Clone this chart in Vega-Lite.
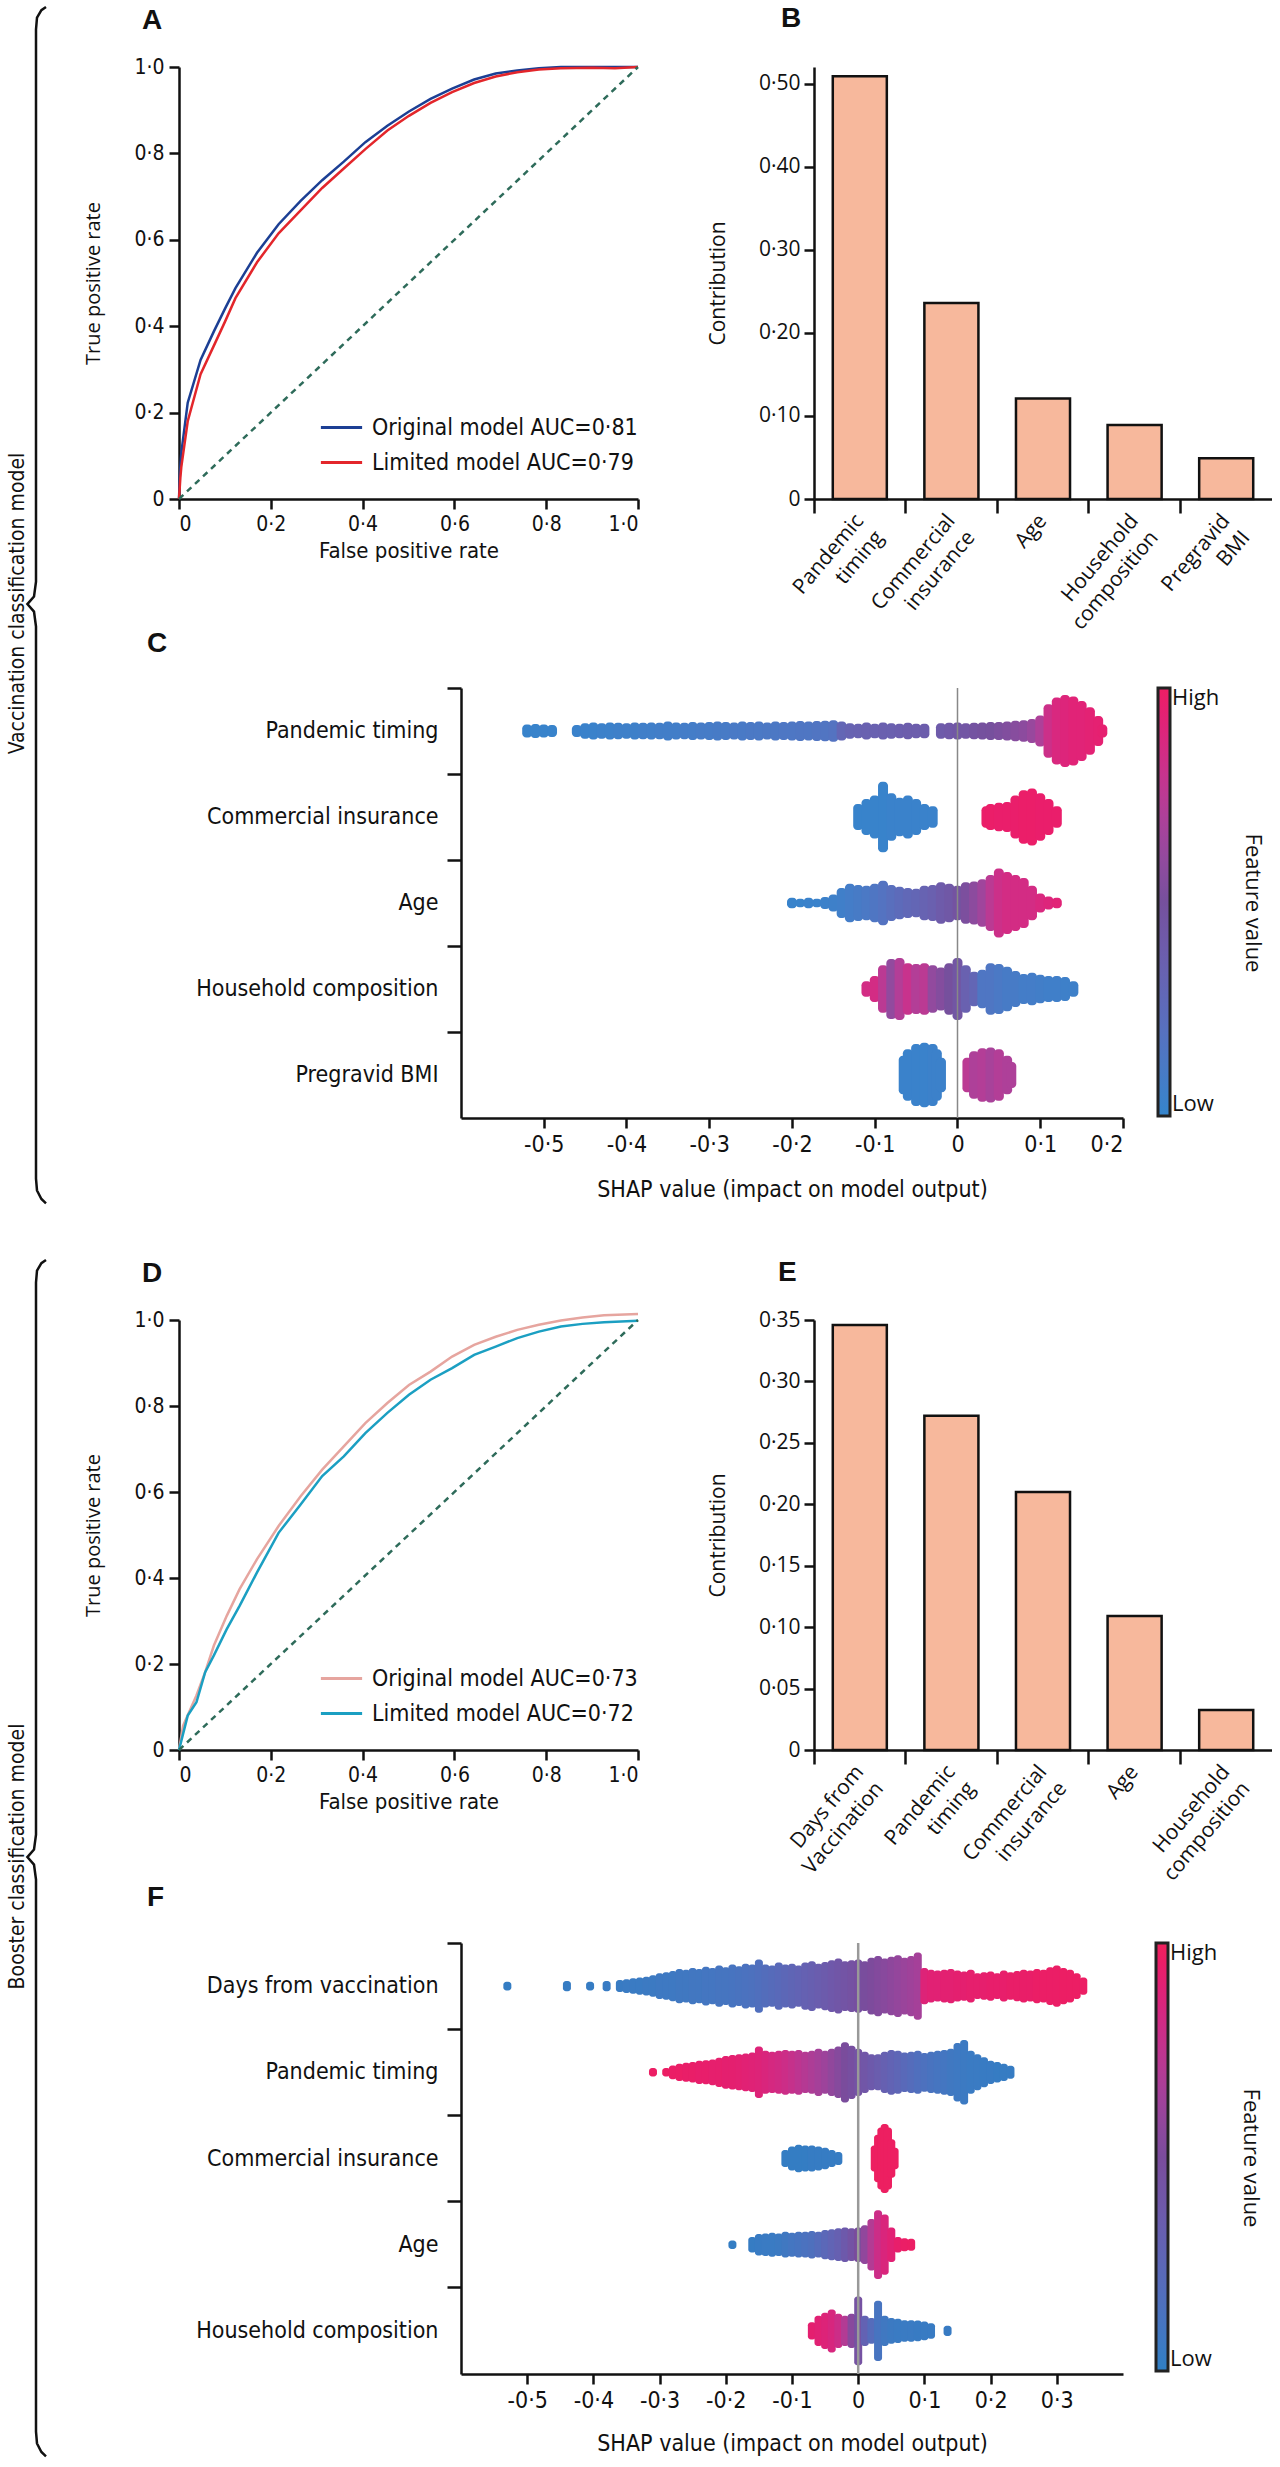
{
"$schema":"https://vega.github.io/schema/vega-lite/v6.json",
"background":"white",
"padding":{"left":6,"top":1,"right":0,"bottom":0},
"config":{
 "view":{"stroke":null},
 "axis":{"grid":false,"domainColor":"#111","domainWidth":2.5,"tickColor":"#111","tickWidth":2.5,"tickSize":10,"labelColor":"#111","titleColor":"#111","titleFontWeight":"normal","labelFont":"DejaVu Sans Condensed, Liberation Sans, sans-serif","titleFont":"DejaVu Sans Condensed, Liberation Sans, sans-serif","labelFontSize":21,"titleFontSize":22,"labelLimit":500},
 "title":{"fontSize":28,"fontWeight":"bold","font":"Liberation Sans","anchor":"start","frame":"group","color":"#111"},
 "legend":{"labelColor":"#111","titleColor":"#111","labelLimit":500}
},
"datasets":{
 "brace":[{"o":1,"bx":0.95,"by":1.056},{"o":2,"bx":0.72,"by":1.053},{"o":3,"bx":0.5,"by":1.046},{"o":4,"bx":0.45,"by":1.035},{"o":5,"bx":0.45,"by":0.52},{"o":6,"bx":0.35,"by":0.506},{"o":7,"bx":0.02,"by":0.499},{"o":8,"bx":0.35,"by":0.492},{"o":9,"bx":0.45,"by":0.478},{"o":10,"bx":0.45,"by":-0.037},{"o":11,"bx":0.5,"by":-0.048},{"o":12,"bx":0.72,"by":-0.056},{"o":13,"bx":0.95,"by":-0.06}],
 "rocA":[
  {"m":"Original model AUC=0·81","fpr":0,"tpr":0},{"m":"Original model AUC=0·81","fpr":0.002,"tpr":0.06},{"m":"Original model AUC=0·81","fpr":0.005,"tpr":0.107},{"m":"Original model AUC=0·81","fpr":0.019,"tpr":0.223},{"m":"Original model AUC=0·81","fpr":0.047,"tpr":0.322},{"m":"Original model AUC=0·81","fpr":0.076,"tpr":0.388},{"m":"Original model AUC=0·81","fpr":0.1,"tpr":0.44},{"m":"Original model AUC=0·81","fpr":0.123,"tpr":0.488},{"m":"Original model AUC=0·81","fpr":0.17,"tpr":0.57},{"m":"Original model AUC=0·81","fpr":0.217,"tpr":0.636},{"m":"Original model AUC=0·81","fpr":0.265,"tpr":0.69},{"m":"Original model AUC=0·81","fpr":0.312,"tpr":0.738},{"m":"Original model AUC=0·81","fpr":0.359,"tpr":0.781},{"m":"Original model AUC=0·81","fpr":0.406,"tpr":0.826},{"m":"Original model AUC=0·81","fpr":0.454,"tpr":0.864},{"m":"Original model AUC=0·81","fpr":0.501,"tpr":0.897},{"m":"Original model AUC=0·81","fpr":0.548,"tpr":0.926},{"m":"Original model AUC=0·81","fpr":0.595,"tpr":0.95},{"m":"Original model AUC=0·81","fpr":0.643,"tpr":0.971},{"m":"Original model AUC=0·81","fpr":0.69,"tpr":0.985},{"m":"Original model AUC=0·81","fpr":0.737,"tpr":0.992},{"m":"Original model AUC=0·81","fpr":0.784,"tpr":0.997},{"m":"Original model AUC=0·81","fpr":0.832,"tpr":1},{"m":"Original model AUC=0·81","fpr":0.9,"tpr":1},{"m":"Original model AUC=0·81","fpr":1,"tpr":1},
  {"m":"Limited model AUC=0·79","fpr":0,"tpr":0},{"m":"Limited model AUC=0·79","fpr":0.003,"tpr":0.05},{"m":"Limited model AUC=0·79","fpr":0.005,"tpr":0.074},{"m":"Limited model AUC=0·79","fpr":0.019,"tpr":0.18},{"m":"Limited model AUC=0·79","fpr":0.047,"tpr":0.289},{"m":"Limited model AUC=0·79","fpr":0.076,"tpr":0.355},{"m":"Limited model AUC=0·79","fpr":0.1,"tpr":0.41},{"m":"Limited model AUC=0·79","fpr":0.123,"tpr":0.465},{"m":"Limited model AUC=0·79","fpr":0.17,"tpr":0.548},{"m":"Limited model AUC=0·79","fpr":0.217,"tpr":0.615},{"m":"Limited model AUC=0·79","fpr":0.265,"tpr":0.668},{"m":"Limited model AUC=0·79","fpr":0.312,"tpr":0.72},{"m":"Limited model AUC=0·79","fpr":0.359,"tpr":0.765},{"m":"Limited model AUC=0·79","fpr":0.406,"tpr":0.81},{"m":"Limited model AUC=0·79","fpr":0.454,"tpr":0.853},{"m":"Limited model AUC=0·79","fpr":0.501,"tpr":0.887},{"m":"Limited model AUC=0·79","fpr":0.548,"tpr":0.917},{"m":"Limited model AUC=0·79","fpr":0.595,"tpr":0.942},{"m":"Limited model AUC=0·79","fpr":0.643,"tpr":0.963},{"m":"Limited model AUC=0·79","fpr":0.69,"tpr":0.978},{"m":"Limited model AUC=0·79","fpr":0.737,"tpr":0.988},{"m":"Limited model AUC=0·79","fpr":0.784,"tpr":0.994},{"m":"Limited model AUC=0·79","fpr":0.832,"tpr":0.997},{"m":"Limited model AUC=0·79","fpr":0.9,"tpr":0.998},{"m":"Limited model AUC=0·79","fpr":0.95,"tpr":0.997},{"m":"Limited model AUC=0·79","fpr":1,"tpr":1}
 ],
 "rocD":[
  {"m":"Original model AUC=0·73","fpr":0,"tpr":0},{"m":"Original model AUC=0·73","fpr":0.009,"tpr":0.057},{"m":"Original model AUC=0·73","fpr":0.038,"tpr":0.127},{"m":"Original model AUC=0·73","fpr":0.057,"tpr":0.181},{"m":"Original model AUC=0·73","fpr":0.076,"tpr":0.243},{"m":"Original model AUC=0·73","fpr":0.104,"tpr":0.312},{"m":"Original model AUC=0·73","fpr":0.132,"tpr":0.374},{"m":"Original model AUC=0·73","fpr":0.17,"tpr":0.444},{"m":"Original model AUC=0·73","fpr":0.217,"tpr":0.521},{"m":"Original model AUC=0·73","fpr":0.265,"tpr":0.59},{"m":"Original model AUC=0·73","fpr":0.312,"tpr":0.652},{"m":"Original model AUC=0·73","fpr":0.359,"tpr":0.706},{"m":"Original model AUC=0·73","fpr":0.406,"tpr":0.76},{"m":"Original model AUC=0·73","fpr":0.454,"tpr":0.807},{"m":"Original model AUC=0·73","fpr":0.501,"tpr":0.849},{"m":"Original model AUC=0·73","fpr":0.548,"tpr":0.88},{"m":"Original model AUC=0·73","fpr":0.595,"tpr":0.915},{"m":"Original model AUC=0·73","fpr":0.643,"tpr":0.942},{"m":"Original model AUC=0·73","fpr":0.69,"tpr":0.961},{"m":"Original model AUC=0·73","fpr":0.737,"tpr":0.977},{"m":"Original model AUC=0·73","fpr":0.784,"tpr":0.989},{"m":"Original model AUC=0·73","fpr":0.832,"tpr":0.999},{"m":"Original model AUC=0·73","fpr":0.879,"tpr":1.006},{"m":"Original model AUC=0·73","fpr":0.926,"tpr":1.011},{"m":"Original model AUC=0·73","fpr":1,"tpr":1.014},
  {"m":"Limited model AUC=0·72","fpr":0,"tpr":0},{"m":"Limited model AUC=0·72","fpr":0.019,"tpr":0.08},{"m":"Limited model AUC=0·72","fpr":0.038,"tpr":0.111},{"m":"Limited model AUC=0·72","fpr":0.057,"tpr":0.181},{"m":"Limited model AUC=0·72","fpr":0.076,"tpr":0.22},{"m":"Limited model AUC=0·72","fpr":0.104,"tpr":0.281},{"m":"Limited model AUC=0·72","fpr":0.132,"tpr":0.335},{"m":"Limited model AUC=0·72","fpr":0.17,"tpr":0.413},{"m":"Limited model AUC=0·72","fpr":0.217,"tpr":0.505},{"m":"Limited model AUC=0·72","fpr":0.265,"tpr":0.571},{"m":"Limited model AUC=0·72","fpr":0.312,"tpr":0.637},{"m":"Limited model AUC=0·72","fpr":0.359,"tpr":0.683},{"m":"Limited model AUC=0·72","fpr":0.406,"tpr":0.737},{"m":"Limited model AUC=0·72","fpr":0.454,"tpr":0.784},{"m":"Limited model AUC=0·72","fpr":0.501,"tpr":0.826},{"m":"Limited model AUC=0·72","fpr":0.548,"tpr":0.861},{"m":"Limited model AUC=0·72","fpr":0.595,"tpr":0.888},{"m":"Limited model AUC=0·72","fpr":0.643,"tpr":0.919},{"m":"Limited model AUC=0·72","fpr":0.69,"tpr":0.938},{"m":"Limited model AUC=0·72","fpr":0.737,"tpr":0.958},{"m":"Limited model AUC=0·72","fpr":0.784,"tpr":0.973},{"m":"Limited model AUC=0·72","fpr":0.832,"tpr":0.985},{"m":"Limited model AUC=0·72","fpr":0.879,"tpr":0.991},{"m":"Limited model AUC=0·72","fpr":0.926,"tpr":0.995},{"m":"Limited model AUC=0·72","fpr":1,"tpr":0.998}
 ],
 "barB":[{"feat":"Pandemic timing","val":0.509},{"feat":"Commercial insurance","val":0.236},{"feat":"Age","val":0.121},{"feat":"Household composition","val":0.089},{"feat":"Pregravid BMI","val":0.049}],
 "barE":[{"feat":"Days from Vaccination","val":0.346},{"feat":"Pandemic timing","val":0.272},{"feat":"Commercial insurance","val":0.21},{"feat":"Age","val":0.109},{"feat":"Household composition","val":0.0326}],
 "swarmC":[
  {"f":"Pandemic timing","s":-0.52,"h":0.15,"v":0.02},{"f":"Pandemic timing","s":-0.51,"h":0.16,"v":0.02},{"f":"Pandemic timing","s":-0.5,"h":0.15,"v":0.02},{"f":"Pandemic timing","s":-0.49,"h":0.14,"v":0.02},
  {"f":"Pandemic timing","s":-0.46,"h":0.14,"v":0.03},{"f":"Pandemic timing","s":-0.45,"h":0.18,"v":0.03},{"f":"Pandemic timing","s":-0.44,"h":0.2,"v":0.03},{"f":"Pandemic timing","s":-0.43,"h":0.18,"v":0.04},{"f":"Pandemic timing","s":-0.42,"h":0.2,"v":0.04},{"f":"Pandemic timing","s":-0.41,"h":0.19,"v":0.05},{"f":"Pandemic timing","s":-0.4,"h":0.18,"v":0.05},{"f":"Pandemic timing","s":-0.39,"h":0.2,"v":0.05},{"f":"Pandemic timing","s":-0.38,"h":0.19,"v":0.06},{"f":"Pandemic timing","s":-0.37,"h":0.2,"v":0.06},{"f":"Pandemic timing","s":-0.36,"h":0.19,"v":0.07},{"f":"Pandemic timing","s":-0.35,"h":0.22,"v":0.07},{"f":"Pandemic timing","s":-0.34,"h":0.2,"v":0.07},{"f":"Pandemic timing","s":-0.33,"h":0.19,"v":0.08},{"f":"Pandemic timing","s":-0.32,"h":0.21,"v":0.08},{"f":"Pandemic timing","s":-0.31,"h":0.2,"v":0.09},{"f":"Pandemic timing","s":-0.3,"h":0.21,"v":0.09},{"f":"Pandemic timing","s":-0.29,"h":0.22,"v":0.1},{"f":"Pandemic timing","s":-0.28,"h":0.21,"v":0.1},{"f":"Pandemic timing","s":-0.27,"h":0.2,"v":0.11},{"f":"Pandemic timing","s":-0.26,"h":0.22,"v":0.11},{"f":"Pandemic timing","s":-0.25,"h":0.21,"v":0.12},{"f":"Pandemic timing","s":-0.24,"h":0.22,"v":0.12},{"f":"Pandemic timing","s":-0.23,"h":0.2,"v":0.13},{"f":"Pandemic timing","s":-0.22,"h":0.22,"v":0.13},{"f":"Pandemic timing","s":-0.21,"h":0.21,"v":0.14},{"f":"Pandemic timing","s":-0.2,"h":0.22,"v":0.14},{"f":"Pandemic timing","s":-0.19,"h":0.23,"v":0.15},{"f":"Pandemic timing","s":-0.18,"h":0.22,"v":0.15},{"f":"Pandemic timing","s":-0.17,"h":0.23,"v":0.16},{"f":"Pandemic timing","s":-0.16,"h":0.24,"v":0.16},{"f":"Pandemic timing","s":-0.15,"h":0.25,"v":0.18},{"f":"Pandemic timing","s":-0.14,"h":0.22,"v":0.3},{"f":"Pandemic timing","s":-0.13,"h":0.18,"v":0.33},{"f":"Pandemic timing","s":-0.12,"h":0.17,"v":0.34},{"f":"Pandemic timing","s":-0.11,"h":0.2,"v":0.35},{"f":"Pandemic timing","s":-0.1,"h":0.17,"v":0.35},{"f":"Pandemic timing","s":-0.09,"h":0.2,"v":0.36},{"f":"Pandemic timing","s":-0.08,"h":0.18,"v":0.36},{"f":"Pandemic timing","s":-0.07,"h":0.17,"v":0.37},{"f":"Pandemic timing","s":-0.06,"h":0.19,"v":0.38},{"f":"Pandemic timing","s":-0.05,"h":0.17,"v":0.38},{"f":"Pandemic timing","s":-0.04,"h":0.17,"v":0.38},{"f":"Pandemic timing","s":-0.02,"h":0.18,"v":0.4},{"f":"Pandemic timing","s":-0.01,"h":0.19,"v":0.42},{"f":"Pandemic timing","s":0,"h":0.2,"v":0.44},{"f":"Pandemic timing","s":0.01,"h":0.18,"v":0.45},{"f":"Pandemic timing","s":0.02,"h":0.19,"v":0.47},{"f":"Pandemic timing","s":0.03,"h":0.2,"v":0.49},{"f":"Pandemic timing","s":0.04,"h":0.21,"v":0.5},{"f":"Pandemic timing","s":0.05,"h":0.21,"v":0.52},{"f":"Pandemic timing","s":0.06,"h":0.22,"v":0.54},{"f":"Pandemic timing","s":0.07,"h":0.24,"v":0.56},{"f":"Pandemic timing","s":0.08,"h":0.25,"v":0.58},{"f":"Pandemic timing","s":0.09,"h":0.28,"v":0.62},{"f":"Pandemic timing","s":0.1,"h":0.36,"v":0.7},{"f":"Pandemic timing","s":0.11,"h":0.62,"v":0.82},{"f":"Pandemic timing","s":0.12,"h":0.78,"v":0.88},{"f":"Pandemic timing","s":0.13,"h":0.84,"v":0.9},{"f":"Pandemic timing","s":0.14,"h":0.8,"v":0.92},{"f":"Pandemic timing","s":0.15,"h":0.7,"v":0.92},{"f":"Pandemic timing","s":0.16,"h":0.55,"v":0.93},{"f":"Pandemic timing","s":0.17,"h":0.35,"v":0.94},{"f":"Pandemic timing","s":0.175,"h":0.15,"v":0.95},
  {"f":"Commercial insurance","s":-0.12,"h":0.3,"v":0.02},{"f":"Commercial insurance","s":-0.11,"h":0.42,"v":0.02},{"f":"Commercial insurance","s":-0.1,"h":0.5,"v":0.02},{"f":"Commercial insurance","s":-0.09,"h":0.82,"v":0.02},{"f":"Commercial insurance","s":-0.08,"h":0.55,"v":0.03},{"f":"Commercial insurance","s":-0.07,"h":0.45,"v":0.03},{"f":"Commercial insurance","s":-0.06,"h":0.5,"v":0.03},{"f":"Commercial insurance","s":-0.05,"h":0.42,"v":0.03},{"f":"Commercial insurance","s":-0.04,"h":0.3,"v":0.03},{"f":"Commercial insurance","s":-0.03,"h":0.25,"v":0.03},
  {"f":"Commercial insurance","s":0.035,"h":0.25,"v":0.98},{"f":"Commercial insurance","s":0.04,"h":0.3,"v":0.98},{"f":"Commercial insurance","s":0.05,"h":0.33,"v":0.97},{"f":"Commercial insurance","s":0.06,"h":0.35,"v":0.97},{"f":"Commercial insurance","s":0.07,"h":0.5,"v":0.97},{"f":"Commercial insurance","s":0.08,"h":0.62,"v":0.98},{"f":"Commercial insurance","s":0.09,"h":0.66,"v":0.98},{"f":"Commercial insurance","s":0.1,"h":0.55,"v":0.97},{"f":"Commercial insurance","s":0.11,"h":0.42,"v":0.97},{"f":"Commercial insurance","s":0.12,"h":0.25,"v":0.97},
  {"f":"Age","s":-0.2,"h":0.12,"v":0.02},{"f":"Age","s":-0.19,"h":0.1,"v":0.02},{"f":"Age","s":-0.18,"h":0.12,"v":0.03},{"f":"Age","s":-0.17,"h":0.1,"v":0.03},{"f":"Age","s":-0.16,"h":0.14,"v":0.04},{"f":"Age","s":-0.15,"h":0.2,"v":0.05},{"f":"Age","s":-0.14,"h":0.35,"v":0.06},{"f":"Age","s":-0.13,"h":0.45,"v":0.08},{"f":"Age","s":-0.12,"h":0.42,"v":0.1},{"f":"Age","s":-0.11,"h":0.4,"v":0.12},{"f":"Age","s":-0.1,"h":0.45,"v":0.15},{"f":"Age","s":-0.09,"h":0.52,"v":0.18},{"f":"Age","s":-0.08,"h":0.42,"v":0.22},{"f":"Age","s":-0.07,"h":0.38,"v":0.25},{"f":"Age","s":-0.06,"h":0.35,"v":0.28},{"f":"Age","s":-0.05,"h":0.33,"v":0.3},{"f":"Age","s":-0.04,"h":0.4,"v":0.33},{"f":"Age","s":-0.03,"h":0.42,"v":0.36},{"f":"Age","s":-0.02,"h":0.48,"v":0.4},{"f":"Age","s":-0.01,"h":0.45,"v":0.43},{"f":"Age","s":0,"h":0.4,"v":0.47},{"f":"Age","s":0.01,"h":0.48,"v":0.52},{"f":"Age","s":0.02,"h":0.5,"v":0.58},{"f":"Age","s":0.03,"h":0.55,"v":0.65},{"f":"Age","s":0.04,"h":0.65,"v":0.75},{"f":"Age","s":0.05,"h":0.8,"v":0.82},{"f":"Age","s":0.06,"h":0.72,"v":0.85},{"f":"Age","s":0.07,"h":0.65,"v":0.85},{"f":"Age","s":0.08,"h":0.58,"v":0.85},{"f":"Age","s":0.09,"h":0.4,"v":0.85},{"f":"Age","s":0.1,"h":0.22,"v":0.88},{"f":"Age","s":0.11,"h":0.15,"v":0.9},{"f":"Age","s":0.12,"h":0.12,"v":0.92},
  {"f":"Household composition","s":-0.11,"h":0.18,"v":0.85},{"f":"Household composition","s":-0.1,"h":0.3,"v":0.85},{"f":"Household composition","s":-0.09,"h":0.55,"v":0.75},{"f":"Household composition","s":-0.08,"h":0.7,"v":0.6},{"f":"Household composition","s":-0.07,"h":0.72,"v":0.72},{"f":"Household composition","s":-0.06,"h":0.6,"v":0.8},{"f":"Household composition","s":-0.05,"h":0.58,"v":0.72},{"f":"Household composition","s":-0.04,"h":0.6,"v":0.75},{"f":"Household composition","s":-0.03,"h":0.55,"v":0.6},{"f":"Household composition","s":-0.02,"h":0.5,"v":0.55},{"f":"Household composition","s":-0.01,"h":0.6,"v":0.5},{"f":"Household composition","s":0,"h":0.72,"v":0.45},{"f":"Household composition","s":0.01,"h":0.55,"v":0.35},{"f":"Household composition","s":0.02,"h":0.4,"v":0.3},{"f":"Household composition","s":0.03,"h":0.45,"v":0.15},{"f":"Household composition","s":0.04,"h":0.6,"v":0.15},{"f":"Household composition","s":0.05,"h":0.58,"v":0.12},{"f":"Household composition","s":0.06,"h":0.52,"v":0.1},{"f":"Household composition","s":0.07,"h":0.42,"v":0.1},{"f":"Household composition","s":0.08,"h":0.35,"v":0.08},{"f":"Household composition","s":0.09,"h":0.38,"v":0.08},{"f":"Household composition","s":0.1,"h":0.33,"v":0.07},{"f":"Household composition","s":0.11,"h":0.3,"v":0.06},{"f":"Household composition","s":0.12,"h":0.3,"v":0.06},{"f":"Household composition","s":0.13,"h":0.28,"v":0.05},{"f":"Household composition","s":0.14,"h":0.18,"v":0.05},
  {"f":"Pregravid BMI","s":-0.065,"h":0.45,"v":0.03},{"f":"Pregravid BMI","s":-0.06,"h":0.6,"v":0.03},{"f":"Pregravid BMI","s":-0.05,"h":0.72,"v":0.03},{"f":"Pregravid BMI","s":-0.04,"h":0.75,"v":0.03},{"f":"Pregravid BMI","s":-0.03,"h":0.72,"v":0.04},{"f":"Pregravid BMI","s":-0.025,"h":0.6,"v":0.04},{"f":"Pregravid BMI","s":-0.02,"h":0.4,"v":0.04},
  {"f":"Pregravid BMI","s":0.012,"h":0.4,"v":0.75},{"f":"Pregravid BMI","s":0.02,"h":0.55,"v":0.7},{"f":"Pregravid BMI","s":0.03,"h":0.62,"v":0.72},{"f":"Pregravid BMI","s":0.04,"h":0.64,"v":0.68},{"f":"Pregravid BMI","s":0.05,"h":0.6,"v":0.72},{"f":"Pregravid BMI","s":0.06,"h":0.45,"v":0.7},{"f":"Pregravid BMI","s":0.065,"h":0.3,"v":0.7}
 ],
 "swarmF":[
  {"f":"Days from vaccination","s":-0.53,"h":0.1,"v":0.02},{"f":"Days from vaccination","s":-0.44,"h":0.12,"v":0.03},{"f":"Days from vaccination","s":-0.405,"h":0.1,"v":0.03},{"f":"Days from vaccination","s":-0.38,"h":0.12,"v":0.04},{"f":"Days from vaccination","s":-0.36,"h":0.14,"v":0.04},{"f":"Days from vaccination","s":-0.35,"h":0.16,"v":0.05},{"f":"Days from vaccination","s":-0.34,"h":0.18,"v":0.05},{"f":"Days from vaccination","s":-0.33,"h":0.2,"v":0.05},{"f":"Days from vaccination","s":-0.32,"h":0.22,"v":0.06},{"f":"Days from vaccination","s":-0.31,"h":0.25,"v":0.06},{"f":"Days from vaccination","s":-0.3,"h":0.3,"v":0.07},{"f":"Days from vaccination","s":-0.29,"h":0.32,"v":0.07},{"f":"Days from vaccination","s":-0.28,"h":0.35,"v":0.07},{"f":"Days from vaccination","s":-0.27,"h":0.4,"v":0.08},{"f":"Days from vaccination","s":-0.26,"h":0.38,"v":0.08},{"f":"Days from vaccination","s":-0.25,"h":0.42,"v":0.09},{"f":"Days from vaccination","s":-0.24,"h":0.4,"v":0.09},{"f":"Days from vaccination","s":-0.23,"h":0.45,"v":0.1},{"f":"Days from vaccination","s":-0.22,"h":0.42,"v":0.1},{"f":"Days from vaccination","s":-0.21,"h":0.48,"v":0.11},{"f":"Days from vaccination","s":-0.2,"h":0.44,"v":0.11},{"f":"Days from vaccination","s":-0.19,"h":0.5,"v":0.12},{"f":"Days from vaccination","s":-0.18,"h":0.46,"v":0.13},{"f":"Days from vaccination","s":-0.17,"h":0.52,"v":0.14},{"f":"Days from vaccination","s":-0.16,"h":0.5,"v":0.15},{"f":"Days from vaccination","s":-0.15,"h":0.62,"v":0.17},{"f":"Days from vaccination","s":-0.14,"h":0.5,"v":0.19},{"f":"Days from vaccination","s":-0.13,"h":0.48,"v":0.21},{"f":"Days from vaccination","s":-0.12,"h":0.55,"v":0.23},{"f":"Days from vaccination","s":-0.11,"h":0.5,"v":0.25},{"f":"Days from vaccination","s":-0.1,"h":0.52,"v":0.27},{"f":"Days from vaccination","s":-0.09,"h":0.48,"v":0.29},{"f":"Days from vaccination","s":-0.08,"h":0.55,"v":0.31},{"f":"Days from vaccination","s":-0.07,"h":0.58,"v":0.33},{"f":"Days from vaccination","s":-0.06,"h":0.52,"v":0.35},{"f":"Days from vaccination","s":-0.05,"h":0.56,"v":0.37},{"f":"Days from vaccination","s":-0.04,"h":0.6,"v":0.39},{"f":"Days from vaccination","s":-0.03,"h":0.64,"v":0.41},{"f":"Days from vaccination","s":-0.02,"h":0.58,"v":0.43},{"f":"Days from vaccination","s":-0.01,"h":0.6,"v":0.45},{"f":"Days from vaccination","s":0,"h":0.62,"v":0.47},{"f":"Days from vaccination","s":0.01,"h":0.58,"v":0.49},{"f":"Days from vaccination","s":0.02,"h":0.66,"v":0.51},{"f":"Days from vaccination","s":0.03,"h":0.7,"v":0.53},{"f":"Days from vaccination","s":0.04,"h":0.64,"v":0.55},{"f":"Days from vaccination","s":0.05,"h":0.68,"v":0.57},{"f":"Days from vaccination","s":0.06,"h":0.72,"v":0.59},{"f":"Days from vaccination","s":0.07,"h":0.66,"v":0.61},{"f":"Days from vaccination","s":0.08,"h":0.7,"v":0.63},{"f":"Days from vaccination","s":0.09,"h":0.78,"v":0.65},{"f":"Days from vaccination","s":0.1,"h":0.42,"v":0.88},{"f":"Days from vaccination","s":0.11,"h":0.38,"v":0.9},{"f":"Days from vaccination","s":0.12,"h":0.36,"v":0.9},{"f":"Days from vaccination","s":0.13,"h":0.38,"v":0.91},{"f":"Days from vaccination","s":0.14,"h":0.4,"v":0.91},{"f":"Days from vaccination","s":0.15,"h":0.36,"v":0.92},{"f":"Days from vaccination","s":0.16,"h":0.34,"v":0.92},{"f":"Days from vaccination","s":0.17,"h":0.38,"v":0.93},{"f":"Days from vaccination","s":0.18,"h":0.3,"v":0.93},{"f":"Days from vaccination","s":0.19,"h":0.32,"v":0.93},{"f":"Days from vaccination","s":0.2,"h":0.34,"v":0.94},{"f":"Days from vaccination","s":0.21,"h":0.3,"v":0.94},{"f":"Days from vaccination","s":0.22,"h":0.36,"v":0.94},{"f":"Days from vaccination","s":0.23,"h":0.32,"v":0.95},{"f":"Days from vaccination","s":0.24,"h":0.35,"v":0.95},{"f":"Days from vaccination","s":0.25,"h":0.38,"v":0.95},{"f":"Days from vaccination","s":0.26,"h":0.36,"v":0.95},{"f":"Days from vaccination","s":0.27,"h":0.4,"v":0.96},{"f":"Days from vaccination","s":0.28,"h":0.38,"v":0.96},{"f":"Days from vaccination","s":0.29,"h":0.44,"v":0.96},{"f":"Days from vaccination","s":0.3,"h":0.48,"v":0.96},{"f":"Days from vaccination","s":0.31,"h":0.42,"v":0.97},{"f":"Days from vaccination","s":0.32,"h":0.38,"v":0.97},{"f":"Days from vaccination","s":0.33,"h":0.3,"v":0.97},{"f":"Days from vaccination","s":0.34,"h":0.2,"v":0.97},
  {"f":"Pandemic timing","s":-0.31,"h":0.1,"v":0.97},{"f":"Pandemic timing","s":-0.29,"h":0.1,"v":0.97},{"f":"Pandemic timing","s":-0.28,"h":0.16,"v":0.96},{"f":"Pandemic timing","s":-0.27,"h":0.2,"v":0.96},{"f":"Pandemic timing","s":-0.26,"h":0.22,"v":0.95},{"f":"Pandemic timing","s":-0.25,"h":0.24,"v":0.95},{"f":"Pandemic timing","s":-0.24,"h":0.27,"v":0.94},{"f":"Pandemic timing","s":-0.23,"h":0.28,"v":0.94},{"f":"Pandemic timing","s":-0.22,"h":0.3,"v":0.93},{"f":"Pandemic timing","s":-0.21,"h":0.34,"v":0.93},{"f":"Pandemic timing","s":-0.2,"h":0.38,"v":0.92},{"f":"Pandemic timing","s":-0.19,"h":0.4,"v":0.92},{"f":"Pandemic timing","s":-0.18,"h":0.42,"v":0.91},{"f":"Pandemic timing","s":-0.17,"h":0.44,"v":0.9},{"f":"Pandemic timing","s":-0.16,"h":0.46,"v":0.89},{"f":"Pandemic timing","s":-0.15,"h":0.6,"v":0.88},{"f":"Pandemic timing","s":-0.14,"h":0.5,"v":0.86},{"f":"Pandemic timing","s":-0.13,"h":0.48,"v":0.84},{"f":"Pandemic timing","s":-0.12,"h":0.5,"v":0.82},{"f":"Pandemic timing","s":-0.11,"h":0.52,"v":0.8},{"f":"Pandemic timing","s":-0.1,"h":0.5,"v":0.77},{"f":"Pandemic timing","s":-0.09,"h":0.52,"v":0.74},{"f":"Pandemic timing","s":-0.08,"h":0.48,"v":0.71},{"f":"Pandemic timing","s":-0.07,"h":0.5,"v":0.68},{"f":"Pandemic timing","s":-0.06,"h":0.55,"v":0.65},{"f":"Pandemic timing","s":-0.05,"h":0.5,"v":0.62},{"f":"Pandemic timing","s":-0.04,"h":0.55,"v":0.58},{"f":"Pandemic timing","s":-0.03,"h":0.6,"v":0.54},{"f":"Pandemic timing","s":-0.02,"h":0.7,"v":0.5},{"f":"Pandemic timing","s":-0.01,"h":0.62,"v":0.47},{"f":"Pandemic timing","s":0,"h":0.55,"v":0.44},{"f":"Pandemic timing","s":0.01,"h":0.48,"v":0.41},{"f":"Pandemic timing","s":0.02,"h":0.42,"v":0.38},{"f":"Pandemic timing","s":0.03,"h":0.42,"v":0.35},{"f":"Pandemic timing","s":0.04,"h":0.48,"v":0.32},{"f":"Pandemic timing","s":0.05,"h":0.52,"v":0.29},{"f":"Pandemic timing","s":0.06,"h":0.5,"v":0.26},{"f":"Pandemic timing","s":0.07,"h":0.46,"v":0.23},{"f":"Pandemic timing","s":0.08,"h":0.48,"v":0.2},{"f":"Pandemic timing","s":0.09,"h":0.5,"v":0.17},{"f":"Pandemic timing","s":0.1,"h":0.45,"v":0.15},{"f":"Pandemic timing","s":0.11,"h":0.48,"v":0.13},{"f":"Pandemic timing","s":0.12,"h":0.5,"v":0.11},{"f":"Pandemic timing","s":0.13,"h":0.52,"v":0.1},{"f":"Pandemic timing","s":0.14,"h":0.55,"v":0.08},{"f":"Pandemic timing","s":0.15,"h":0.68,"v":0.07},{"f":"Pandemic timing","s":0.16,"h":0.75,"v":0.06},{"f":"Pandemic timing","s":0.17,"h":0.5,"v":0.05},{"f":"Pandemic timing","s":0.18,"h":0.42,"v":0.05},{"f":"Pandemic timing","s":0.19,"h":0.35,"v":0.04},{"f":"Pandemic timing","s":0.2,"h":0.27,"v":0.04},{"f":"Pandemic timing","s":0.21,"h":0.24,"v":0.03},{"f":"Pandemic timing","s":0.22,"h":0.2,"v":0.03},{"f":"Pandemic timing","s":0.23,"h":0.15,"v":0.03},
  {"f":"Commercial insurance","s":-0.11,"h":0.2,"v":0.02},{"f":"Commercial insurance","s":-0.1,"h":0.28,"v":0.02},{"f":"Commercial insurance","s":-0.09,"h":0.32,"v":0.02},{"f":"Commercial insurance","s":-0.08,"h":0.3,"v":0.02},{"f":"Commercial insurance","s":-0.07,"h":0.3,"v":0.03},{"f":"Commercial insurance","s":-0.06,"h":0.28,"v":0.03},{"f":"Commercial insurance","s":-0.05,"h":0.25,"v":0.03},{"f":"Commercial insurance","s":-0.04,"h":0.2,"v":0.03},{"f":"Commercial insurance","s":-0.03,"h":0.15,"v":0.03},
  {"f":"Commercial insurance","s":0.025,"h":0.3,"v":0.98},{"f":"Commercial insurance","s":0.03,"h":0.55,"v":0.98},{"f":"Commercial insurance","s":0.035,"h":0.72,"v":0.98},{"f":"Commercial insurance","s":0.04,"h":0.8,"v":0.98},{"f":"Commercial insurance","s":0.045,"h":0.72,"v":0.98},{"f":"Commercial insurance","s":0.05,"h":0.45,"v":0.98},{"f":"Commercial insurance","s":0.055,"h":0.25,"v":0.98},
  {"f":"Age","s":-0.19,"h":0.1,"v":0.02},{"f":"Age","s":-0.16,"h":0.18,"v":0.03},{"f":"Age","s":-0.15,"h":0.25,"v":0.04},{"f":"Age","s":-0.14,"h":0.26,"v":0.05},{"f":"Age","s":-0.13,"h":0.28,"v":0.05},{"f":"Age","s":-0.12,"h":0.26,"v":0.06},{"f":"Age","s":-0.11,"h":0.3,"v":0.08},{"f":"Age","s":-0.1,"h":0.28,"v":0.1},{"f":"Age","s":-0.09,"h":0.3,"v":0.12},{"f":"Age","s":-0.08,"h":0.3,"v":0.14},{"f":"Age","s":-0.07,"h":0.32,"v":0.16},{"f":"Age","s":-0.06,"h":0.3,"v":0.2},{"f":"Age","s":-0.05,"h":0.34,"v":0.24},{"f":"Age","s":-0.04,"h":0.36,"v":0.28},{"f":"Age","s":-0.03,"h":0.38,"v":0.32},{"f":"Age","s":-0.02,"h":0.4,"v":0.38},{"f":"Age","s":-0.01,"h":0.38,"v":0.44},{"f":"Age","s":0,"h":0.4,"v":0.5},{"f":"Age","s":0.01,"h":0.45,"v":0.58},{"f":"Age","s":0.02,"h":0.6,"v":0.7},{"f":"Age","s":0.03,"h":0.8,"v":0.8},{"f":"Age","s":0.04,"h":0.7,"v":0.86},{"f":"Age","s":0.05,"h":0.4,"v":0.9},{"f":"Age","s":0.06,"h":0.18,"v":0.94},{"f":"Age","s":0.07,"h":0.15,"v":0.96},{"f":"Age","s":0.08,"h":0.14,"v":0.97},
  {"f":"Household composition","s":-0.07,"h":0.2,"v":0.92},{"f":"Household composition","s":-0.06,"h":0.35,"v":0.9},{"f":"Household composition","s":-0.05,"h":0.42,"v":0.88},{"f":"Household composition","s":-0.04,"h":0.5,"v":0.85},{"f":"Household composition","s":-0.03,"h":0.4,"v":0.8},{"f":"Household composition","s":-0.02,"h":0.35,"v":0.7},{"f":"Household composition","s":-0.01,"h":0.4,"v":0.55},{"f":"Household composition","s":0,"h":0.8,"v":0.45},{"f":"Household composition","s":0.01,"h":0.35,"v":0.3},{"f":"Household composition","s":0.02,"h":0.3,"v":0.2},{"f":"Household composition","s":0.03,"h":0.7,"v":0.12},{"f":"Household composition","s":0.04,"h":0.35,"v":0.08},{"f":"Household composition","s":0.05,"h":0.3,"v":0.06},{"f":"Household composition","s":0.06,"h":0.28,"v":0.05},{"f":"Household composition","s":0.07,"h":0.25,"v":0.05},{"f":"Household composition","s":0.08,"h":0.25,"v":0.05},{"f":"Household composition","s":0.09,"h":0.24,"v":0.04},{"f":"Household composition","s":0.1,"h":0.22,"v":0.04},{"f":"Household composition","s":0.11,"h":0.18,"v":0.04},{"f":"Household composition","s":0.135,"h":0.12,"v":0.04}
 ]
},
"vconcat":[
 {"hconcat":[
   {"width":20,"height":1072,"data":{"name":"brace"},
    "mark":{"type":"line","color":"#111","strokeWidth":2.5},
    "encoding":{
     "x":{"field":"bx","type":"quantitative","scale":{"domain":[0,1]},"axis":null},
     "y":{"field":"by","type":"quantitative","scale":{"domain":[0,1]},"axis":{"title":"Vaccination classification model","labels":false,"ticks":false,"domain":false,"titlePadding":0,"titleFontSize":21}},
     "order":{"field":"o","type":"quantitative"}}},
   {"vconcat":[
     {"hconcat":[
       {"width":459,"height":432,
        "title":{"text":"A","dx":-37,"offset":21},
        "layer":[
         {"data":{"name":"rocA"},"mark":{"type":"line","strokeWidth":2.5},
          "encoding":{
           "x":{"field":"fpr","type":"quantitative","scale":{"domain":[0,1]},"axis":{"title":"False positive rate","values":[0,0.2,0.4,0.6,0.8,1],"labelExpr":"datum.value==0?'0':replace(format(datum.value,'.1f'),'.','·')","labelPadding":4,"titlePadding":6}},
           "y":{"field":"tpr","type":"quantitative","scale":{"domain":[0,1]},"axis":{"title":"True positive rate","values":[0,0.2,0.4,0.6,0.8,1],"labelExpr":"datum.value==0?'0':replace(format(datum.value,'.1f'),'.','·')","labelPadding":5,"titleFont":"Open Sans","titleFontSize":20,"titlePadding":30}},
           "color":{"field":"m","type":"nominal","scale":{"domain":["Original model AUC=0·81","Limited model AUC=0·79"],"range":["#1c3f94","#e3262b"]},
             "legend":{"title":null,"orient":"none","legendX":140,"legendY":338,"symbolType":"stroke","symbolStrokeWidth":3,"symbolSize":1700,"labelFont":"DejaVu Sans Condensed, Liberation Sans, sans-serif","labelFontSize":23,"labelOffset":8,"rowPadding":-6}}}},
         {"data":{"values":[{}]},"mark":{"type":"rule","color":"#2e6b5a","strokeDash":[6,5],"strokeWidth":2.5},
          "encoding":{"x":{"datum":0,"type":"quantitative"},"y":{"datum":0,"type":"quantitative"},"x2":{"datum":1},"y2":{"datum":1}}}
        ]},
       {"width":458,"height":432,
        "title":{"text":"B","dx":-33,"offset":34},
        "data":{"name":"barB"},
        "mark":{"type":"bar","fill":"#f7b89c","stroke":"#111","strokeWidth":2.5,"width":{"band":0.59}},
        "encoding":{
         "x":{"field":"feat","type":"nominal","sort":null,"scale":{"paddingInner":0,"paddingOuter":0},
           "axis":{"title":null,"labelAngle":-50,"labelAlign":"right","labelBaseline":"middle","labelExpr":"split(datum.label,' ')","bandPosition":0,"tickSize":14,"labelFont":"Open Sans","labelFontSize":21,"labelLineHeight":26,"labelPadding":4}},
         "y":{"field":"val","type":"quantitative","scale":{"domain":[0,0.52]},
           "axis":{"title":"Contribution","values":[0,0.1,0.2,0.3,0.4,0.5],"labelExpr":"datum.value==0?'0':replace(format(datum.value,'.2f'),'.','·')","labelFont":"Open Sans","labelFontSize":21,"titleFont":"Open Sans","titleFontSize":21,"titlePadding":30,"labelPadding":4}}}}
      ],"spacing":64,"align":"none"},
     {"hconcat":[
       {"width":1,"height":1,"data":{"values":[]},"mark":"point","title":{"text":"C","dx":-32,"offset":30}},
       {"width":662,"height":430,
        "layer":[
         {"data":{"name":"swarmC"},"mark":{"type":"tick","thickness":10,"cornerRadius":4,"opacity":1},
          "encoding":{
           "x":{"field":"s","type":"quantitative","scale":{"domain":[-0.533,0.2]},"axis":{"title":"SHAP value (impact on model output)","values":[-0.5,-0.4,-0.3,-0.2,-0.1,0,0.1,0.2],"labelExpr":"datum.value==0?'0':replace(replace(format(datum.value,'.1f'),'.','·'),'−','-')","labelFontSize":23,"titleFontSize":23,"labelPadding":5,"titlePadding":22}},
           "y":{"field":"f","type":"nominal","sort":["Pandemic timing","Commercial insurance","Age","Household composition","Pregravid BMI"],"scale":{"paddingInner":0,"paddingOuter":0},"axis":{"title":null,"bandPosition":0,"labelFontSize":23,"labelPadding":9,"minExtent":275,"maxExtent":275,"tickSize":14}},
           "size":{"field":"h","type":"quantitative","scale":{"domain":[0,1],"range":[0,86]},"legend":null},
           "color":{"field":"v","type":"quantitative","scale":{"domain":[0,0.5,1],"range":["#3485cc","#76509d","#ee1e64"]},
             "legend":{"title":"Feature value","orient":"right","offset":33,"direction":"vertical","gradientLength":428,"gradientThickness":12,"gradientStrokeColor":"#222","gradientStrokeWidth":3,"values":[0,1],"labelExpr":"datum.value>0.5?'High':'Low'","labelFont":"Open Sans","labelFontSize":22,"labelOverlap":false,"titleOrient":"right","titleAngle":90,"titleFont":"Open Sans","titleFontSize":22,"titleFontWeight":"normal","titleAnchor":"middle","titlePadding":22}}}},
         {"data":{"values":[{}]},"mark":{"type":"rule","color":"#888","strokeWidth":1.5},"encoding":{"x":{"datum":0,"type":"quantitative"}}}
        ]}
      ],"spacing":6,"align":"none"}
    ],"spacing":-4,"align":"none"}
  ],"spacing":32,"align":"none"},
 {"hconcat":[
   {"width":20,"height":1072,"data":{"name":"brace"},
    "mark":{"type":"line","color":"#111","strokeWidth":2.5},
    "encoding":{
     "x":{"field":"bx","type":"quantitative","scale":{"domain":[0,1]},"axis":null},
     "y":{"field":"by","type":"quantitative","scale":{"domain":[0,1]},"axis":{"title":"Booster classification model","labels":false,"ticks":false,"domain":false,"titlePadding":0,"titleFontSize":21}},
     "order":{"field":"o","type":"quantitative"}}},
   {"vconcat":[
     {"hconcat":[
       {"width":459,"height":430,
        "title":{"text":"D","dx":-37,"offset":21},
        "layer":[
         {"data":{"name":"rocD"},"mark":{"type":"line","strokeWidth":2.5},
          "encoding":{
           "x":{"field":"fpr","type":"quantitative","scale":{"domain":[0,1]},"axis":{"title":"False positive rate","values":[0,0.2,0.4,0.6,0.8,1],"labelExpr":"datum.value==0?'0':replace(format(datum.value,'.1f'),'.','·')","labelPadding":4,"titlePadding":6}},
           "y":{"field":"tpr","type":"quantitative","scale":{"domain":[0,1]},"axis":{"title":"True positive rate","values":[0,0.2,0.4,0.6,0.8,1],"labelExpr":"datum.value==0?'0':replace(format(datum.value,'.1f'),'.','·')","labelPadding":5,"titleFont":"Open Sans","titleFontSize":20,"titlePadding":30}},
           "color":{"field":"m","type":"nominal","scale":{"domain":["Original model AUC=0·73","Limited model AUC=0·72"],"range":["#e6a59f","#1b9fc2"]},
             "legend":{"title":null,"orient":"none","legendX":140,"legendY":336,"symbolType":"stroke","symbolStrokeWidth":3,"symbolSize":1700,"labelFont":"DejaVu Sans Condensed, Liberation Sans, sans-serif","labelFontSize":23,"labelOffset":8,"rowPadding":-6}}}},
         {"data":{"values":[{}]},"mark":{"type":"rule","color":"#2e6b5a","strokeDash":[6,5],"strokeWidth":2.5},
          "encoding":{"x":{"datum":0,"type":"quantitative"},"y":{"datum":0,"type":"quantitative"},"x2":{"datum":1},"y2":{"datum":1}}}
        ]},
       {"width":458,"height":430,
        "title":{"text":"E","dx":-36,"offset":22},
        "data":{"name":"barE"},
        "mark":{"type":"bar","fill":"#f7b89c","stroke":"#111","strokeWidth":2.5,"width":{"band":0.59}},
        "encoding":{
         "x":{"field":"feat","type":"nominal","sort":null,"scale":{"paddingInner":0,"paddingOuter":0},
           "axis":{"title":null,"labelAngle":-50,"labelAlign":"right","labelBaseline":"middle","labelExpr":"datum.label=='Days from Vaccination'?['Days from','Vaccination']:split(datum.label,' ')","bandPosition":0,"tickSize":14,"labelFont":"Open Sans","labelFontSize":21,"labelLineHeight":26,"labelPadding":4}},
         "y":{"field":"val","type":"quantitative","scale":{"domain":[0,0.35]},
           "axis":{"title":"Contribution","values":[0,0.05,0.1,0.15,0.2,0.25,0.3,0.35],"labelExpr":"datum.value==0?'0':replace(format(datum.value,'.2f'),'.','·')","labelFont":"Open Sans","labelFontSize":21,"titleFont":"Open Sans","titleFontSize":21,"titlePadding":30,"labelPadding":4}}}}
      ],"spacing":64,"align":"none"},
     {"hconcat":[
       {"width":1,"height":1,"data":{"values":[]},"mark":"point","title":{"text":"F","dx":-32,"offset":31}},
       {"width":662,"height":431,
        "layer":[
         {"data":{"name":"swarmF"},"mark":{"type":"tick","thickness":8,"cornerRadius":3,"opacity":1},
          "encoding":{
           "x":{"field":"s","type":"quantitative","scale":{"domain":[-0.582,0.346]},"axis":{"title":"SHAP value (impact on model output)","values":[-0.5,-0.4,-0.3,-0.2,-0.1,0,0.1,0.2,0.3],"labelExpr":"datum.value==0?'0':replace(replace(format(datum.value,'.1f'),'.','·'),'−','-')","labelFontSize":23,"titleFontSize":23,"labelPadding":5,"titlePadding":20}},
           "y":{"field":"f","type":"nominal","sort":["Days from vaccination","Pandemic timing","Commercial insurance","Age","Household composition"],"scale":{"paddingInner":0,"paddingOuter":0},"axis":{"title":null,"bandPosition":0,"labelFontSize":23,"labelPadding":9,"minExtent":275,"maxExtent":275,"tickSize":14}},
           "size":{"field":"h","type":"quantitative","scale":{"domain":[0,1],"range":[0,86]},"legend":null},
           "color":{"field":"v","type":"quantitative","scale":{"domain":[0,0.5,1],"range":["#2f7fc4","#7a4c9c","#f0205c"]},
             "legend":{"title":"Feature value","orient":"right","offset":33,"direction":"vertical","gradientLength":428,"gradientThickness":12,"gradientStrokeColor":"#222","gradientStrokeWidth":3,"values":[0,1],"labelExpr":"datum.value>0.5?'High':'Low'","labelFont":"Open Sans","labelFontSize":22,"labelOverlap":false,"titleOrient":"right","titleAngle":90,"titleFont":"Open Sans","titleFontSize":22,"titleFontWeight":"normal","titleAnchor":"middle","titlePadding":22}}}},
         {"data":{"values":[{}]},"mark":{"type":"rule","color":"#999","strokeWidth":2.5},"encoding":{"x":{"datum":0,"type":"quantitative"}}}
        ]}
      ],"spacing":6,"align":"none"}
    ],"spacing":-1,"align":"none"}
  ],"spacing":32,"align":"none"}
],
"spacing":45,
"align":"none"
}
